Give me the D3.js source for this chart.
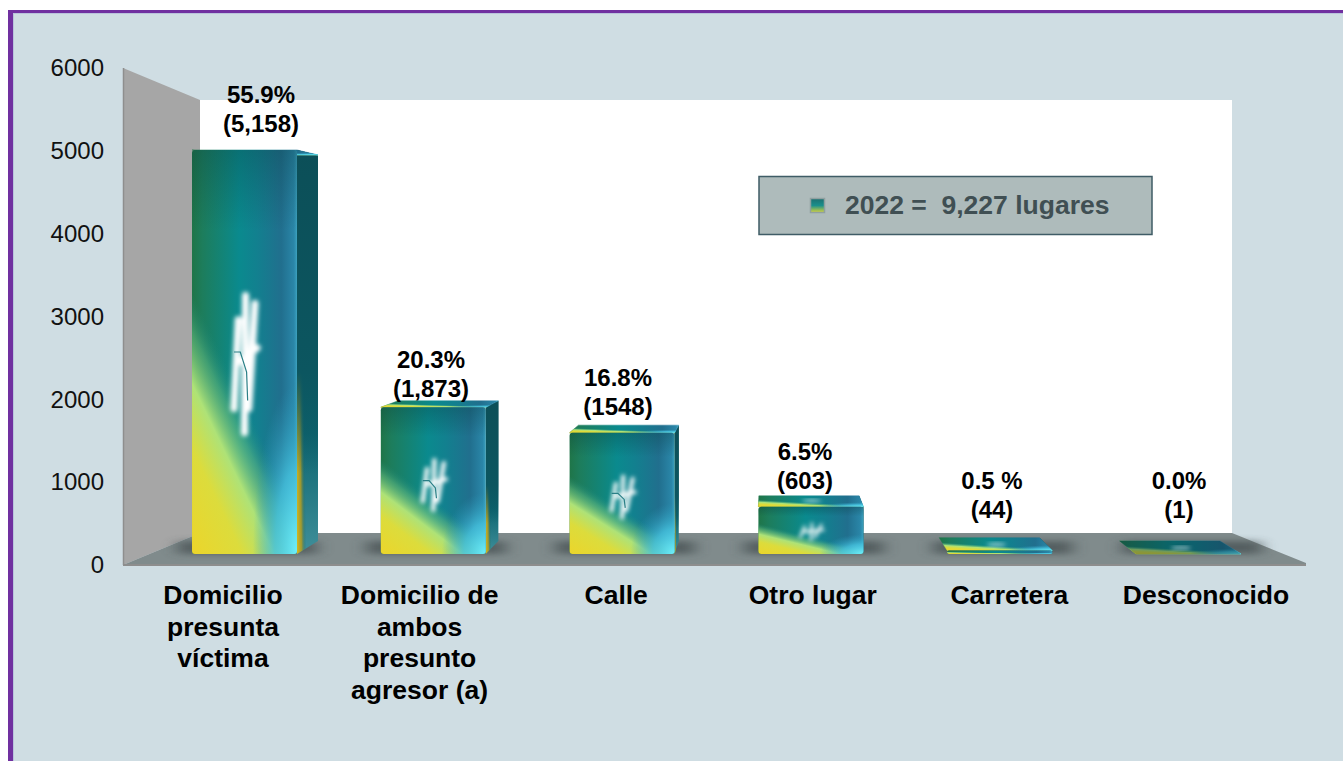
<!DOCTYPE html>
<html>
<head>
<meta charset="utf-8">
<script src="https://cdn.jsdelivr.net/npm/d3@7"></script>
<style>
  html, body { margin: 0; padding: 0; background: #fff; }
  svg { display: block; font-family: "Liberation Sans", Arial, sans-serif; }
</style>
</head>
<body>
<svg id="chart" width="1343" height="761"></svg>
<script>
// ---------- data ----------
const categories = ['Domicilio presunta víctima', 'Domicilio de ambos presunto agresor (a)', 'Calle', 'Otro lugar', 'Carretera', 'Desconocido'];
const categoryLines = [
  ['Domicilio', 'presunta', 'víctima'],
  ['Domicilio de', 'ambos', 'presunto', 'agresor (a)'],
  ['Calle'],
  ['Otro lugar'],
  ['Carretera'],
  ['Desconocido']
];
const values = [5158, 1873, 1548, 603, 44, 1];
const percentLabels = ['55.9%', '20.3%', '16.8%', '6.5%', '0.5 %', '0.0%'];
const countLabels = ['(5,158)', '(1,873)', '(1548)', '(603)', '(44)', '(1)'];
const axisTicks = [0, 1000, 2000, 3000, 4000, 5000, 6000];
const legendText = '2022 =  9,227 lugares';

const svg = d3.select('#chart');
const defs = svg.append('defs');

//------------- scales --------------
const yAxisScale = d3.scaleLinear().domain([0, 6000]).range([565, 68]);  // the ticks at the wall's front edge
const yBar = d3.scaleLinear().domain([0, 6000]).range([554, 84]);        // the plane the bar fronts sit on
const xBar = d3.scaleBand().domain(categories).range([192 - 83.8 / 2, 1241 + 83.8 / 2]).paddingInner(0.444).paddingOuter(0.222);
const xLabel = d3.scalePoint().domain(categories).range([223, 1206]);
// the value labels are not evenly spaced in the picture
const xValue = d3.scaleLinear().domain([0, 1, 5]).range([261, 431, 1179]);
const labelFloor = 536;  // short bars keep their labels above the floor

// perspective: going back moves a point towards the vanishing point
const vanish = { x: 768, y: 262, k: 0.0446 };
const back = ([x, y]) => [x + (vanish.x - x) * vanish.k, y + (vanish.y - y) * vanish.k];

//------------- gradients --------------
function linear(id, attrs, stops) {
  const g = defs.append('linearGradient').attr('id', id);
  Object.entries(attrs).forEach(([k, v]) => g.attr(k, v));
  stops.forEach(s => g.append('stop').attr('offset', s[0]).attr('stop-color', s[1]).attr('stop-opacity', s[2] === undefined ? 1 : s[2]));
}
linear('faceBase', { x1: 0, x2: 1, y1: 0, y2: 0 }, [[0, '#1f7548'], [0.1, '#1d7d5c'], [0.45, '#0a8a8e'], [0.62, '#12808f'], [0.85, '#216f8e'], [0.97, '#2a86a8'], [1, '#3aa0be']]);
linear('faceYellow', { x1: 0, y1: 1, x2: 0.272, y2: 0.498 }, [[0, '#ecd52a'], [0.4, '#dcdc3c'], [0.65, '#aee277'], [0.85, '#5fb87f', 0.55], [1, '#1f8a80', 0]]);
linear('faceShade', { x1: 0, x2: 0, y1: 0, y2: 1 }, [[0, '#06363a', 0.3], [0.2, '#06363a', 0]]);
const cyan = defs.append('radialGradient').attr('id', 'faceCyan').attr('cx', 1).attr('cy', 1).attr('r', 0.42);
cyan.append('stop').attr('offset', 0).attr('stop-color', '#6ff0fa');
cyan.append('stop').attr('offset', 0.5).attr('stop-color', '#46c4e0').attr('stop-opacity', 0.8);
cyan.append('stop').attr('offset', 1).attr('stop-color', '#2a9fc0').attr('stop-opacity', 0);
linear('sideFace', { x1: 0, x2: 0, y1: 0, y2: 1 }, [[0, '#0c4f58'], [0.7, '#0d6570'], [1, '#3f8f9a']]);
linear('sideEdge', { x1: 0, y1: 1, x2: 0.6, y2: 0.85 }, [[0, '#d8b81c'], [0.35, '#a89a28', 0.9], [0.7, '#0d6570', 0]]);
linear('sideTop', { x1: 0, x2: 0, y1: 0, y2: 1 }, [[0, '#0c4f58'], [0.55, '#0c5660'], [0.8, '#0c5660', 0]]);
linear('legendFill', { x1: 0, x2: 0, y1: 1, y2: 0 }, [[0, '#d8d43a'], [0.5, '#1a8f8c'], [1, '#1c6f70']]);

defs.append('filter').attr('id', 'soft').attr('x', '-30%').attr('y', '-100%').attr('width', '160%').attr('height', '300%')
  .append('feGaussianBlur').attr('stdDeviation', '8 3');
defs.append('filter').attr('id', 'glow').attr('x', '-60%').attr('y', '-60%').attr('width', '220%').attr('height', '220%')
  .append('feGaussianBlur').attr('stdDeviation', 2);

//------------- page and frame --------------
svg.append('rect').attr('x', 8).attr('y', 10).attr('width', 1335).attr('height', 751).attr('fill', '#7030a0');
svg.append('rect').attr('x', 13).attr('y', 13).attr('width', 1330).attr('height', 748).attr('fill', '#b9c3dc');
svg.append('rect').attr('x', 14).attr('y', 14).attr('width', 1329).attr('height', 747).attr('fill', '#cfdde3');

//------------- the 3d room --------------
const wallBack = [[200, 100], [1232, 100], [1232, 533], [200, 533]];
const wallLeft = [[123, 68], [200, 100], [200, 533], [123, 565]];
const floor = [[123, 565], [200, 533], [1232, 533], [1306, 563], [1306, 566], [123, 566]];
const polygon = d3.line();
svg.append('path').attr('d', polygon(wallBack) + 'Z').attr('fill', '#ffffff');
svg.append('path').attr('d', polygon(wallLeft) + 'Z').attr('fill', '#a6a6a6');
svg.append('line').attr('x1', 123.5).attr('x2', 123.5).attr('y1', 68).attr('y2', 565).attr('stroke', '#8e8e8e').attr('stroke-width', 1.5);
svg.append('path').attr('d', polygon(floor) + 'Z').attr('fill', '#808b8c');
svg.append('line').attr('x1', 123).attr('x2', 1306).attr('y1', 565).attr('y2', 565).attr('stroke', '#8d8d8d').attr('stroke-width', 2);

//------------- axis --------------
const axis = svg.append('g').attr('transform', 'translate(104,0)')
  .call(d3.axisLeft(yAxisScale).tickValues(axisTicks).tickSize(0).tickPadding(0).tickFormat(d3.format('d')));
axis.select('.domain').remove();
axis.selectAll('text').attr('font-size', 24).attr('font-family', '"Liberation Sans", Arial, sans-serif').attr('fill', '#111');

//------------- bars --------------
const bars = svg.append('g').selectAll('g').data(categories).join('g');

// shadow on the floor
bars.append('rect')
  .attr('x', d => xBar(d) - 14)
  .attr('y', 541)
  .attr('width', xBar.bandwidth() + 34)
  .attr('height', 13)
  .attr('fill', '#3d4648')
  .attr('opacity', 0.65)
  .attr('filter', 'url(#soft)');

const corners = (d) => {
  const i = categories.indexOf(d);
  const x0 = xBar(d), x1 = x0 + xBar.bandwidth();
  const top = yBar(values[i]), base = yBar(0);
  return { x0, x1, top, base };
};
const sidePath = d => {
  const c = corners(d);
  return polygon([[c.x1, c.top], back([c.x1, c.top]), back([c.x1, c.base]), [c.x1, c.base]]) + 'Z';
};
const topPath = d => {
  const c = corners(d);
  return polygon([[c.x0, c.top], back([c.x0, c.top]), back([c.x1, c.top]), [c.x1, c.top]]) + 'Z';
};

// side face: dark teal, a yellow foot, dark again towards the top
['sideFace', 'sideEdge', 'sideTop'].forEach(id => {
  bars.append('path').attr('d', sidePath).attr('fill', `url(#${id})`);
});

// top face carries the same texture as the front
['faceBase', 'faceYellow', 'faceCyan'].forEach(id => {
  bars.append('path')
    .attr('d', topPath)
    .attr('fill', `url(#${id})`)
    .attr('stroke', `url(#${id})`)
    .attr('stroke-width', 0.5);
});
// the last one is almost flat and much darker in the picture
bars.filter(d => values[categories.indexOf(d)] <= 1).append('path')
  .attr('d', topPath).attr('fill', '#0b2f3a').attr('opacity', 0.4);

// front face
['faceBase', 'faceYellow', 'faceCyan', 'faceShade'].forEach(id => {
  bars.append('rect')
    .attr('x', d => xBar(d))
    .attr('y', d => corners(d).top)
    .attr('width', xBar.bandwidth())
    .attr('height', d => corners(d).base - corners(d).top)
    .attr('rx', d => Math.min(3, (corners(d).base - corners(d).top) / 2))
    .attr('fill', `url(#${id})`);
});

// white glint and its little crack, drawn in bar units
function glintPath(d, strokes) {
  const c = corners(d);
  const gx = d3.scaleLinear().domain([0, 1]).range([c.x0, c.x1]);
  const gy = d3.scaleLinear().domain([0, 1]).range([c.top, c.base]);
  return strokes.map(s => polygon(s.map(p => [gx(p[0]), gy(p[1])]))).join('');
}
const glintStrokes = [
  [[0.44, 0.42], [0.40, 0.64]], [[0.51, 0.36], [0.50, 0.70]], [[0.60, 0.38], [0.54, 0.64]],
  [[0.42, 0.53], [0.62, 0.49]]
];
const crack = [[[0.40, 0.50], [0.46, 0.50], [0.52, 0.55], [0.53, 0.62]]];
const glintWidth = d3.scaleSqrt().domain([0, 400]).range([0, 7]);

const tall = bars.filter(d => values[categories.indexOf(d)] > 100);
tall.append('path')
  .attr('d', d => glintPath(d, glintStrokes))
  .attr('fill', 'none').attr('stroke', '#ffffff').attr('stroke-linecap', 'round')
  .attr('stroke-width', d => glintWidth(corners(d).base - corners(d).top))
  .attr('filter', 'url(#glow)');
bars.filter(d => values[categories.indexOf(d)] > 1000).append('path')
  .attr('d', d => glintPath(d, crack))
  .attr('fill', 'none').attr('stroke', '#2a7f86').attr('stroke-width', 1.2);

// small flare on the top face of the short bars
bars.filter(d => values[categories.indexOf(d)] < 1000).append('ellipse')
  .attr('cx', d => (corners(d).x0 + back([corners(d).x1, 0])[0]) / 2 + 3)
  .attr('cy', d => corners(d).top - 6)
  .attr('rx', 10).attr('ry', 1.2)
  .attr('fill', '#ffffff').attr('opacity', 0.8).attr('filter', 'url(#glow)');

//------------- value labels --------------
const valueLabels = svg.append('g').selectAll('text').data(categories).join('text')
  .attr('text-anchor', 'middle')
  .attr('font-size', 24)
  .attr('font-weight', 'bold')
  .attr('fill', '#000');
// the second label sits lower on its bar than the others
const labelY = i => Math.min(yBar(values[i]), labelFloor) + (i === 1 ? 8 : 0);
valueLabels.append('tspan').attr('x', (d, i) => xValue(i)).attr('y', (d, i) => labelY(i) - 47).text((d, i) => percentLabels[i]);
valueLabels.append('tspan').attr('x', (d, i) => xValue(i)).attr('y', (d, i) => labelY(i) - 18).text((d, i) => countLabels[i]);

//------------- category labels --------------
svg.append('g').selectAll('text').data(categories).join('text')
  .attr('text-anchor', 'middle')
  .attr('font-size', 26.5)
  .attr('font-weight', 'bold')
  .attr('fill', '#000')
  .selectAll('tspan').data(d => categoryLines[categories.indexOf(d)].map(line => ({ line, d }))).join('tspan')
  .attr('x', t => xLabel(t.d))
  .attr('y', (t, j) => 604 + j * 31.5)
  .text(t => t.line);

//------------- legend --------------
svg.append('rect').attr('x', 759).attr('y', 176.5).attr('width', 393).attr('height', 58)
  .attr('fill', '#aebbbb').attr('stroke', '#3f5c66').attr('stroke-width', 1.5);
svg.append('rect').attr('x', 810.5).attr('y', 198.5).attr('width', 14).attr('height', 14)
  .attr('fill', 'url(#legendFill)').attr('stroke', '#90a0a0').attr('stroke-width', 1.5);
svg.append('text').attr('x', 845).attr('y', 214).attr('font-size', 26.5).attr('font-weight', 'bold')
  .attr('fill', '#404f53').style('white-space', 'pre').text(legendText);
</script>
</body>
</html>
